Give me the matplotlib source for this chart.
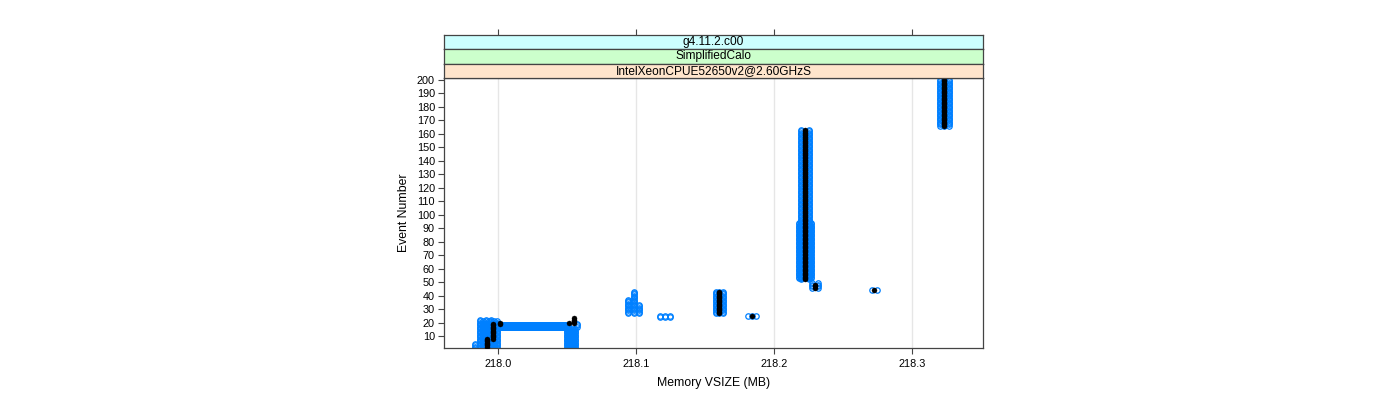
import numpy as np
import matplotlib
matplotlib.use("Agg")
import matplotlib.pyplot as plt

plt.rcParams['font.family'] = ['Liberation Sans', 'DejaVu Sans']

# ---------------- data ----------------
strip_labels = ["g4.11.2.c00", "SimplifiedCalo", "IntelXeonCPUE52650v2@2.60GHzS"]
strip_colors = ["#ccffff", "#ccffcc", "#ffe5cc"]

x_ticks = [218.0, 218.1, 218.2, 218.3]
x_tick_labels = ["218.0", "218.1", "218.2", "218.3"]
y_ticks = list(range(10, 201, 10))

# blue samples: runs of consecutive events at one memory value (MB)
blue_mem   = [217.983, 217.987, 217.989, 217.991, 217.993, 217.995, 217.997, 217.999,
              218.050, 218.0515, 218.053, 218.0545, 218.056, 218.057,
              218.0941, 218.0985, 218.1024,
              218.1173, 218.1209, 218.1245,
              218.158, 218.160, 218.163,
              218.181, 218.184, 218.187,
              218.2195, 218.2255,
              218.2180, 218.2200, 218.2250, 218.2270,
              218.2278, 218.2318,
              218.2708, 218.2750,
              218.3208, 218.3237, 218.3268]
blue_first = [1, 1, 1, 1, 1, 1, 1, 1,
              1, 1, 1, 1, 1, 17,
              27, 27, 27,
              24, 24, 24,
              27, 27, 27,
              25, 25, 25,
              52, 52,
              53, 53, 53, 53,
              46, 46,
              44, 44,
              166, 166, 166]
blue_last  = [4, 22, 21, 22, 21, 22, 21, 21,
              15, 15, 15, 15, 15, 19,
              37, 43, 33,
              25, 25, 25,
              43, 43, 43,
              25, 25, 25,
              163, 163,
              94, 94, 94, 94,
              49, 49,
              44, 44,
              200, 200, 200]

# blue band: events whose samples span a memory range
band_event = [16, 17, 18, 19]
band_start = [218.000, 218.000, 218.000, 218.000]
band_end   = [218.051, 218.051, 218.051, 218.051]

# black points: runs of consecutive events at one memory value (MB)
black_mem   = [217.9918, 217.9961, 218.0012, 218.0513, 218.0552,
               218.1605, 218.1839, 218.2225, 218.2297, 218.2729, 218.3237]
black_first = [2, 8, 19, 20, 20, 27, 25, 52, 46, 44, 166]
black_last  = [8, 19, 20, 20, 23, 43, 25, 163, 48, 44, 200]

# ---------------- figure ----------------
W, H = 1400, 400
fig = plt.figure(figsize=(14, 4), dpi=100)
L, R, T, B = 444, 983, 78, 348
ax = fig.add_axes([L / W, 1 - B / H, (R - L) / W, (B - T) / H])

xlim = (217.9606, 218.3517)
ylim = (1.1, 201.5)
ax.set_xlim(*xlim)
ax.set_ylim(*ylim)

for xv in x_ticks:
    ax.axvline(xv, color="#e6e6e6", lw=1, zorder=0)

blue = "#0080ff"
for m, a, b in zip(blue_mem, blue_first, blue_last):
    ev = np.arange(a, b + 1)
    ax.plot(np.full(ev.shape, m), ev, linestyle="none", marker="o",
            markersize=3.9, markerfacecolor="none", markeredgecolor=blue,
            markeredgewidth=0.9, zorder=2)

lc = ax.hlines(band_event, band_start, band_end, colors=blue, linewidth=3.6,
               zorder=2)
lc.set_capstyle("round")

for m, a, b in zip(black_mem, black_first, black_last):
    ev = np.arange(a, b + 1)
    ax.plot(np.full(ev.shape, m), ev, linestyle="none", marker="o",
            markersize=3.6, markerfacecolor="black", markeredgecolor="black",
            markeredgewidth=0.3, zorder=3)

border = "#444444"
for s in ax.spines.values():
    s.set_color(border)
    s.set_linewidth(0.9)

ax.set_xticks(x_ticks)
ax.set_xticklabels(x_tick_labels)
ax.set_yticks(y_ticks)
ax.tick_params(axis="both", direction="out", length=4, width=0.8, color=border,
               labelsize=7.8, pad=2.5)
ax.tick_params(axis="y", right=False)
ax.tick_params(axis="x", top=False, pad=4)

fig.text((L + R) / 2 / W, 1 - 383 / H, "Memory VSIZE (MB)", ha="center", va="center",
         fontsize=8.8)
fig.text(404 / W, 1 - 213 / H, "Event Number", ha="center", va="center",
         rotation=90, fontsize=8.8)

# strips
strip_edges = [35, 49.33, 63.67, 78]
for i, (lab, col) in enumerate(zip(strip_labels, strip_colors)):
    t0, t1 = strip_edges[i], strip_edges[i + 1]
    sax = fig.add_axes([L / W, 1 - t1 / H, (R - L) / W, (t1 - t0) / H])
    sax.set_xlim(*xlim)
    sax.set_ylim(0, 1)
    sax.set_facecolor(col)
    for s in sax.spines.values():
        s.set_color(border)
        s.set_linewidth(0.9)
    sax.set_yticks([])
    if i == 0:
        sax.set_xticks(x_ticks)
        sax.tick_params(axis="x", bottom=False, top=True, labelbottom=False,
                        labeltop=False, direction="out", length=4, width=0.8,
                        color=border)
    else:
        sax.set_xticks([])
    sax.text(0.5, 0.5, lab, transform=sax.transAxes, ha="center", va="center",
             fontsize=8.6)

fig.savefig("out.png", dpi=100)
